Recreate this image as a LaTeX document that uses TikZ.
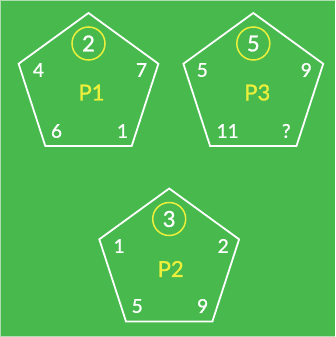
\documentclass[tikz,border=0pt]{standalone}
\usepackage{fontspec}
\setmainfont{Lato}
\newfontfamily\latomed{Lato}[FakeBold=1.2]
\usepackage{tikz}
\usetikzlibrary{shapes.geometric,positioning}
\definecolor{bggreen}{RGB}{71,185,77}
\definecolor{bgedge}{RGB}{175,222,178}
\definecolor{pyellow}{RGB}{236,240,60}

\tikzset{
    penta/.style={draw=white, line width=1.8pt, regular polygon, regular polygon sides=5,
        minimum size=147pt, inner sep=0pt, outer sep=0pt},
    cornernum/.style={text=white, font=\latomed\fontsize{19}{22}\selectfont, inner sep=0pt},
    topnum/.style={text=white, font=\latomed\fontsize{22}{26}\selectfont, circle, draw=pyellow,
        line width=1.5pt, minimum size=33pt, inner sep=0pt},
    pname/.style={text=pyellow, font=\latomed\fontsize{22}{26}\selectfont, inner sep=0pt}
}

\begin{document}
\begin{tikzpicture}[x=1pt, y=-1pt]

% Background
\fill[bggreen] (0,0) rectangle (335,337);
\draw[bgedge, line width=0.8pt] (335,0.4) -- (0.4,0.4) -- (0.4,336.6) -- (335,336.6);

% P1 (top left)
\begin{scope}[shift={(88.5,86.5)}]
\node[penta] (p1) at (0,0) {};
\node[topnum]    (p1top) at (0,-43) {2};
\node[cornernum] (p1ul)  at (-50,-16.5) {4};
\node[cornernum] (p1ur)  at (53,-16.5) {7};
\node[pname]     (p1name) at (3,6) {P1};
\node[cornernum] (p1ll)  at (-32,44.5) {6};
\node[cornernum] (p1lr)  at (34,44.5) {1};
\end{scope}

% P3 (top right)
\begin{scope}[shift={(253.3,86.5)}]
\node[penta] (p3) at (0,0) {};
\node[topnum]    (p3top) at (0,-43) {5};
\node[cornernum] (p3ul)  at (-51,-16.5) {5};
\node[cornernum] (p3ur)  at (53,-16.5) {9};
\node[pname]     (p3name) at (4,6) {P3};
\node[cornernum] (p3ll)  at (-25.6,44.5) {11};
\node[cornernum] (p3lr)  at (33,44.5) {?};
\end{scope}

% P2 (bottom)
\begin{scope}[shift={(169.2,262)}]
\node[penta] (p2) at (0,0) {};
\node[topnum]    (p2top) at (0,-43) {3};
\node[cornernum] (p2ul)  at (-50,-16) {1};
\node[cornernum] (p2ur)  at (54,-16) {2};
\node[pname]     (p2name) at (1.5,7) {P2};
\node[cornernum] (p2ll)  at (-32,44) {5};
\node[cornernum] (p2lr)  at (33.5,44) {9};
\end{scope}

\end{tikzpicture}
\end{document}
